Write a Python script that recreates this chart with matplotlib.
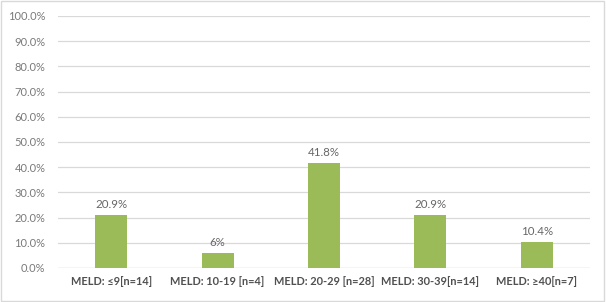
import matplotlib
matplotlib.use("Agg")
import matplotlib.pyplot as plt
from matplotlib.patches import Rectangle

categories = ["MELD: ≤9[n=14]", "MELD: 10-19 [n=4]", "MELD: 20-29 [n=28]", "MELD: 30-39[n=14]", "MELD: ≥40[n=7]"]
values = [20.9, 6.0, 41.8, 20.9, 10.4]
value_labels = ["20.9%", "6%", "41.8%", "20.9%", "10.4%"]
yticks = [0, 10, 20, 30, 40, 50, 60, 70, 80, 90, 100]

plt.rcParams['font.family'] = ['Lato', 'DejaVu Sans']

fig = plt.figure(figsize=(6.06, 3.02), dpi=100)
ax = fig.add_axes([58/606, 1-268/302, (590-58)/606, (268-16)/302])

x = list(range(len(categories)))
ax.bar(x, values, width=0.3, color="#9BBB59", zorder=3)
for xi, v, lab in zip(x, values, value_labels):
    ax.text(xi, v + 2.0, lab, ha="center", va="bottom", fontsize=8.3, color="#666666")

ax.set_xlim(-0.5, len(categories) - 0.5)
ax.set_ylim(0, 100)
ax.set_yticks(yticks)
ax.set_yticklabels([f"{t:.1f}%" for t in yticks], fontsize=8, color="#7a7a7a")
ax.set_xticks(x)
ax.set_xticklabels(categories, fontsize=7.9, color="#505050", fontweight="bold")
ax.tick_params(axis="both", length=0)
ax.tick_params(axis="y", pad=9)
ax.tick_params(axis="x", pad=6)
ax.grid(axis="y", color="#D9D9D9", linewidth=0.9, zorder=0)
for s in ax.spines.values():
    s.set_visible(False)
ax.axhline(0, color="#D9D9D9", linewidth=0.9, zorder=2)

fig.patches.append(Rectangle((0.002, 0.003), 0.995, 0.993, transform=fig.transFigure,
                             fill=False, edgecolor="#D9D9D9", linewidth=1.0))

fig.savefig("out.png", dpi=100)
